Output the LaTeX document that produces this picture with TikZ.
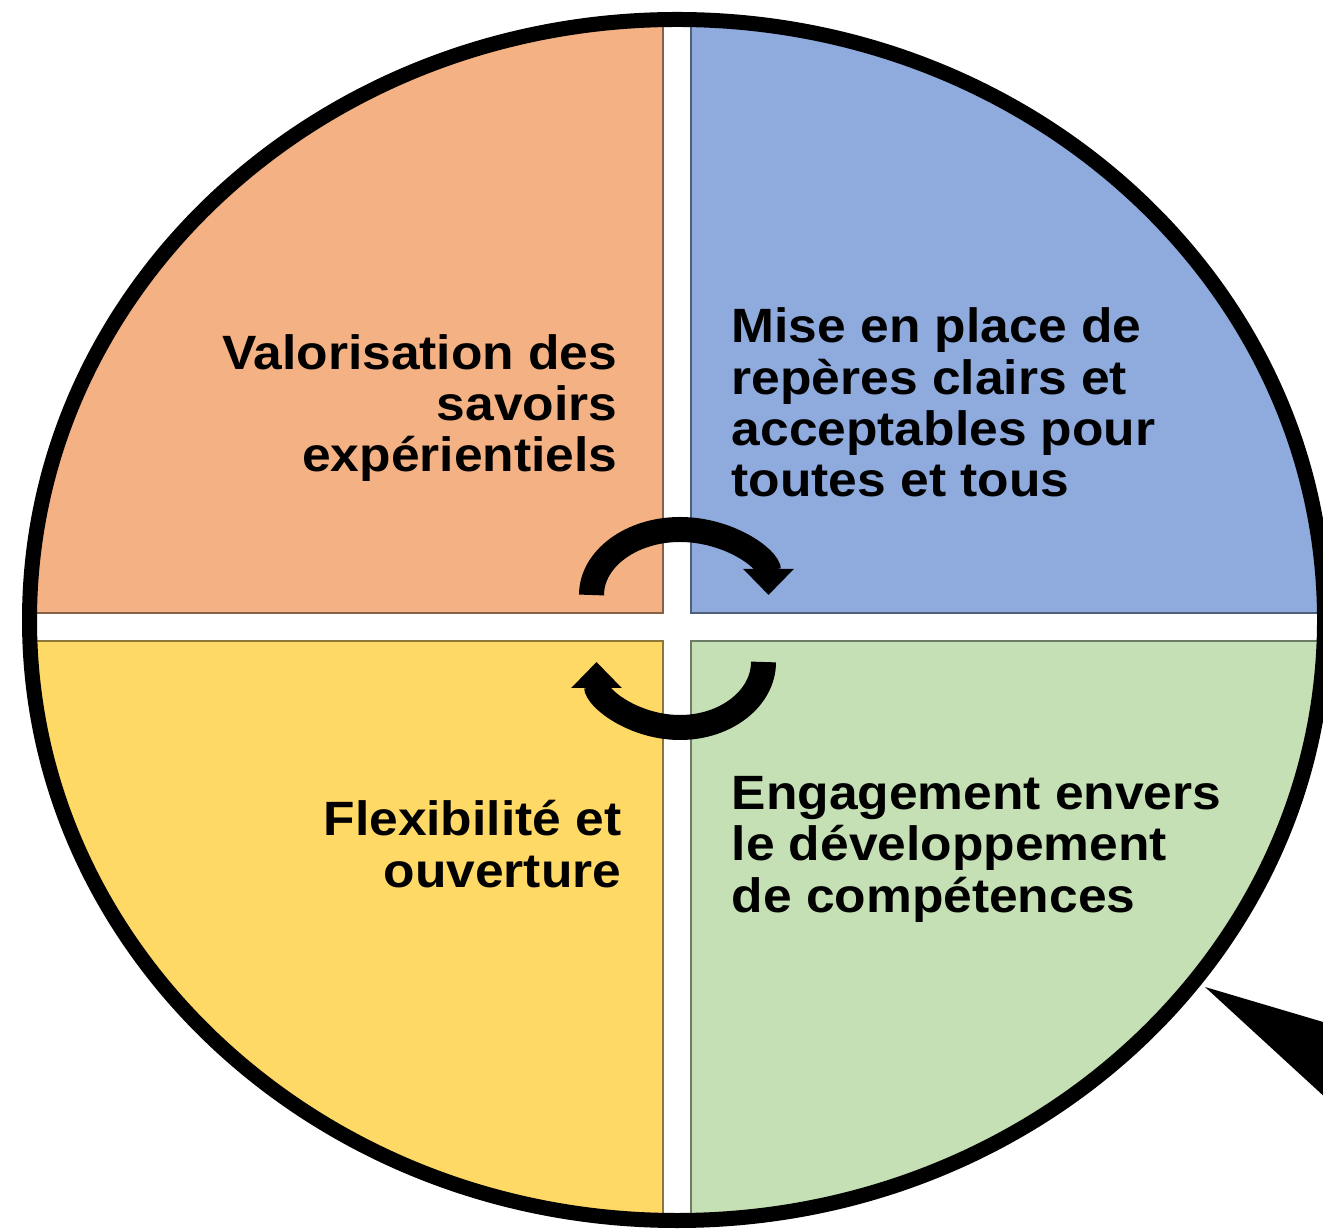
\documentclass[tikz,border=0pt]{standalone}
\usepackage{fontspec}
\newfontfamily\labfont[FakeStretch=1.07]{Liberation Sans}
\usetikzlibrary{arrows.meta}
\definecolor{quadorange}{HTML}{F4B183}
\definecolor{quadblue}{HTML}{8FAADC}
\definecolor{quadyellow}{HTML}{FFD966}
\definecolor{quadgreen}{HTML}{C5E0B4}
\begin{document}
\begin{tikzpicture}[
		quad/.style={fill=#1,draw=#1!55!black,line width=0.02cm},
		lab/.style={inner sep=0,font=\labfont\bfseries\fontsize{13.7pt}{14.65pt}\selectfont},
		cyc/.style={line width=0.25cm,-{Triangle[width=0.49cm,length=0.26cm]}}]
		\useasboundingbox (0,0) rectangle (13.23,12.30);
		\coordinate (O) at (6.77,6.10);
		% quarters, clipped by the disc
		\begin{scope}
			\clip (O) ellipse (6.42 and 5.95);
			\draw[quad=quadorange] (-0.5,6.17) rectangle (6.63,13);
			\draw[quad=quadblue] (6.91,6.17) rectangle (14,13);
			\draw[quad=quadyellow] (-0.5,-0.5) rectangle (6.63,5.89);
			\draw[quad=quadgreen] (6.91,-0.5) rectangle (14,5.89);
		\end{scope}
		\draw[line width=0.15cm] (O) ellipse (6.475 and 6.005);
		% pointer
		\coordinate (T) at (12.05,2.43);
		\fill (T) -- (13.4,2.03) -- (13.4,1.19) -- cycle;
		% cycle arrows
		\coordinate (A1) at (5.915,6.35);
		\coordinate (A2) at (7.635,5.68);
		\draw[cyc] (A1) arc (180:0:0.885 and 0.655);
		\draw[cyc] (A2) arc (0:-180:0.835 and 0.655);
		% labels (base = last line)
		\node[lab,anchor=base east,align=right] (valo) at (6.18,7.58) {Valorisation des\\savoirs\\expérientiels};
		\node[lab,anchor=base west,align=left] (rep) at (7.31,7.33) {Mise en place de\\repères clairs et\\acceptables pour\\toutes et tous};
		\node[lab,anchor=base east,align=right] (flex) at (6.22,3.43) {Flexibilité et\\ouverture};
		\node[lab,anchor=base west,align=left] (eng) at (7.31,3.18) {Engagement envers\\le développement\\de compétences};
	\end{tikzpicture}
\end{document}
